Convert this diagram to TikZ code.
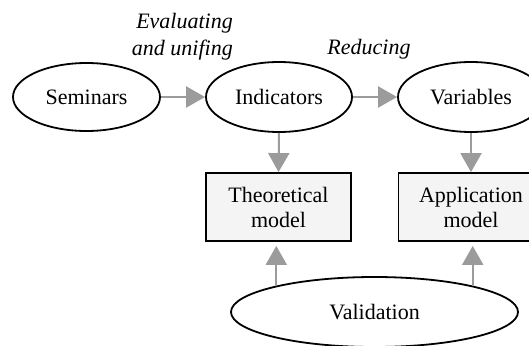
\documentclass[tikz,border=0pt]{standalone}
\usepackage{fontspec}
\setmainfont{Liberation Serif}
\usetikzlibrary{arrows.meta,shapes.geometric}
\definecolor{arrowgray}{HTML}{9B9B9B}
\definecolor{boxgray}{HTML}{F4F4F4}
\begin{document}
\begin{tikzpicture}[x=1pt,y=-1pt,
  every node/.style={font=\fontsize{22}{25}\selectfont, inner sep=0pt},
  oval/.style={ellipse, draw=black, line width=1.8pt, fill=white},
  modelbox/.style={rectangle, draw=black, line width=1.8pt, fill=boxgray,
    minimum width=145pt, minimum height=68pt, align=center},
  flow/.style={draw=arrowgray, line width=2pt,
    -{Triangle[length=19pt,width=21pt]}},
  note/.style={font=\itshape\fontsize{22}{27}\selectfont}
]
\useasboundingbox (0,0) rectangle (529,345);
\clip (0,0) rectangle (529,345);

% top row of activities
\node[oval, minimum width=147pt, minimum height=68pt] (sem) at (86.5,97) {Seminars};
\node[oval, minimum width=146pt, minimum height=70pt] (ind) at (279,97) {Indicators};
\node[oval, minimum width=146pt, minimum height=70pt] (var) at (471,97) {Variables};

% models
\node[modelbox] (theo) at (278.5,207) {Theoretical\\model};
\node[modelbox] (app) at (471,207) {Application\\model};

% validation
\node[oval, minimum width=287pt, minimum height=70pt] (val) at (374.5,312) {Validation};

% step labels
\node[note, align=right, anchor=east] (evalnote) at (233,36.5) {Evaluating\\and unifing};
\node[note] (rednote) at (369,49) {Reducing};

% connectors
\draw[flow] (sem.east) -- (ind.west);
\draw[flow] (ind.east) -- (var.west);
\draw[flow] (ind.south) -- (theo.north);
\draw[flow] (var.south) -- (app.north);
\draw[flow, shorten >=4pt] (val.165) -- (val.165 |- theo.south);
\draw[flow, shorten >=4pt] (val.15) -- (val.15 |- app.south);
\end{tikzpicture}
\end{document}
